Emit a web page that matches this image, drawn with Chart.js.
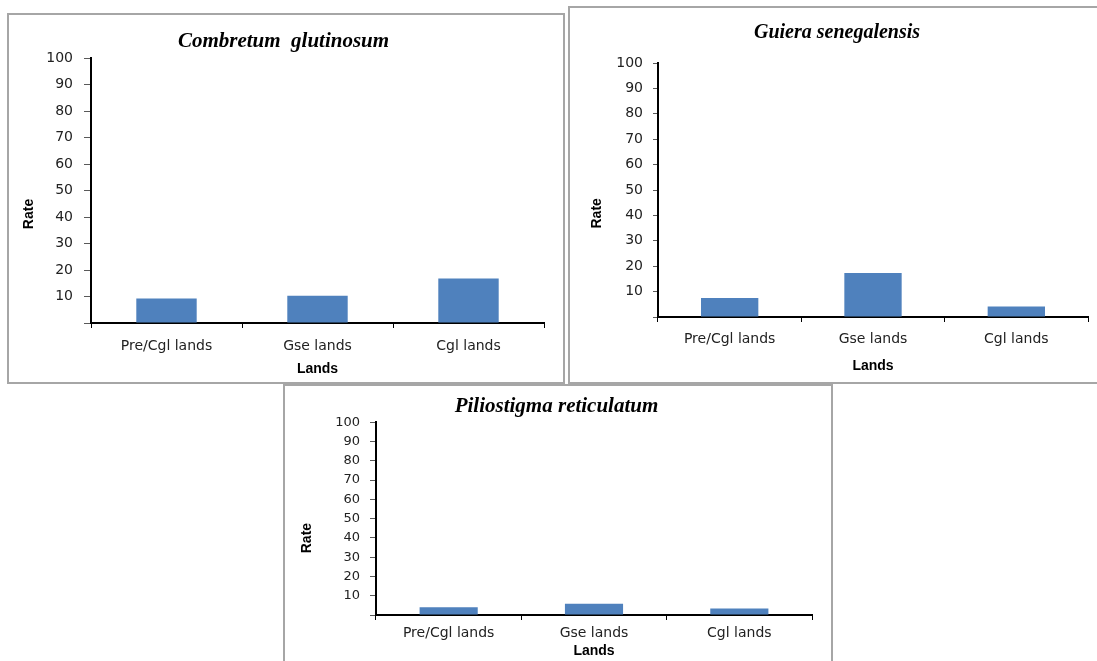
<!DOCTYPE html>
<html><head><meta charset="utf-8">
<script src="https://cdn.jsdelivr.net/npm/chart.js@4/dist/chart.umd.min.js"></script>
<style>
body{margin:0;background:#fff;width:1097px;height:661px;overflow:hidden;position:relative}
.box{position:absolute;border:2px solid #a6a6a6;box-sizing:border-box;background:#fff}
canvas{position:absolute}
</style></head><body>
<div class="box" style="left:7px;top:13px;width:558px;height:371px"></div>
<div class="box" style="left:568px;top:6px;width:532px;height:378px"></div>
<div class="box" style="left:283px;top:384px;width:550px;height:300px"></div>
<canvas id="c1" width="556" height="369" style="left:8px;top:14px"></canvas>
<canvas id="c2" width="528" height="376" style="left:569px;top:7px"></canvas>
<canvas id="c3" width="548" height="276" style="left:284px;top:385px"></canvas>
<script>
const categories = ['Pre/Cgl lands', 'Gse lands', 'Cgl lands'];
const combretumRates = [9.3, 10.3, 16.8];
const guieraRates = [7.5, 17.3, 4.1];
const piliostigmaRates = [4.0, 5.8, 3.4];
const yTickValues = [0, 10, 20, 30, 40, 50, 60, 70, 80, 90, 100];
const speciesTitles = ['Combretum  glutinosum', 'Guiera senegalensis', 'Piliostigma reticulatum'];
const xAxisTitle = 'Lands';
const yAxisTitle = 'Rate';

function build(id, title, values, g) {
  new Chart(document.getElementById(id), {
    type: 'bar',
    data: {
      labels: categories,
      datasets: [{ data: values, backgroundColor: '#4f81bd', barPercentage: 0.8, categoryPercentage: 0.5 }]
    },
    options: {
      responsive: false, animation: false, devicePixelRatio: 1,
      layout: { padding: { left: g.padLeft, right: g.right, top: 0, bottom: 0 } },
      plugins: {
        legend: { display: false }, tooltip: { enabled: false },
        title: {
          display: true, text: title, color: '#000',
          font: { family: '"Liberation Serif", "Times New Roman", serif', size: g.titleSize, style: 'italic', weight: 'bold', lineHeight: 1.2 },
          padding: { top: g.titleTop, bottom: g.titleBottom }
        }
      },
      scales: {
        x: {
          grid: { display: true, drawOnChartArea: false, drawTicks: true, tickLength: 5, color: '#000', offset: true },
          border: { color: '#000', width: 2 },
          ticks: { color: '#222', font: { family: '"DejaVu Sans"', size: g.catSize, lineHeight: 1.2 }, padding: g.catPad, maxRotation: 0, autoSkip: false },
          title: { display: true, text: xAxisTitle, color: '#000', font: { family: '"Liberation Sans"', size: 14, weight: 'bold', lineHeight: 1.2 }, padding: { top: 0, bottom: g.xTitleBottom } },
          afterFit: s => { s.height = g.xHeight; }
        },
        y: {
          min: 0, max: 100,
          afterBuildTicks: s => { s.ticks = yTickValues.map(v => ({ value: v })); },
          grid: { drawOnChartArea: false, tickLength: g.yTickLen, color: '#595959' },
          border: { color: '#000', width: 2 },
          ticks: { color: '#222', font: { family: '"DejaVu Sans"', size: g.tickSize }, padding: g.yTickPad, callback: v => (v === 0 ? '' : String(v)) },
          title: { display: true, text: yAxisTitle + '\u00A0'.repeat(g.rateShift), color: '#000', font: { family: '"Liberation Sans"', size: 14, weight: 'bold', lineHeight: 1.2 }, padding: { top: g.yTitlePad, bottom: 0 } },
          afterFit: s => { s.width = g.left; }
        }
      }
    }
  });
}

build('c1', speciesTitles[0], combretumRates, {
  padLeft: 15, right: 20, left: 68, titleSize: 21, titleTop: 15.4, titleBottom: 3.7,
  xHeight: 60, catSize: 14, catPad: 10, xTitleBottom: 5,
  tickSize: 14, yTickLen: 7, yTickPad: 11, yTitlePad: -2, rateShift: 12
});
build('c2', speciesTitles[1], guieraRates, {
  padLeft: 17, right: 9, left: 72, titleSize: 20, titleTop: 14, titleBottom: 18,
  xHeight: 66, catSize: 14, catPad: 9, xTitleBottom: 8,
  tickSize: 14, yTickLen: 5, yTickPad: 10, yTitlePad: 3, rateShift: 12
});
build('c3', speciesTitles[2], piliostigmaRates, {
  padLeft: 17, right: 20, left: 75, titleSize: 21, titleTop: 9.1, titleBottom: 3,
  xHeight: 46, catSize: 14, catPad: 5, xTitleBottom: 1,
  tickSize: 13, yTickLen: 6, yTickPad: 10, yTitlePad: -2, rateShift: 10
});
</script>
</body></html>
